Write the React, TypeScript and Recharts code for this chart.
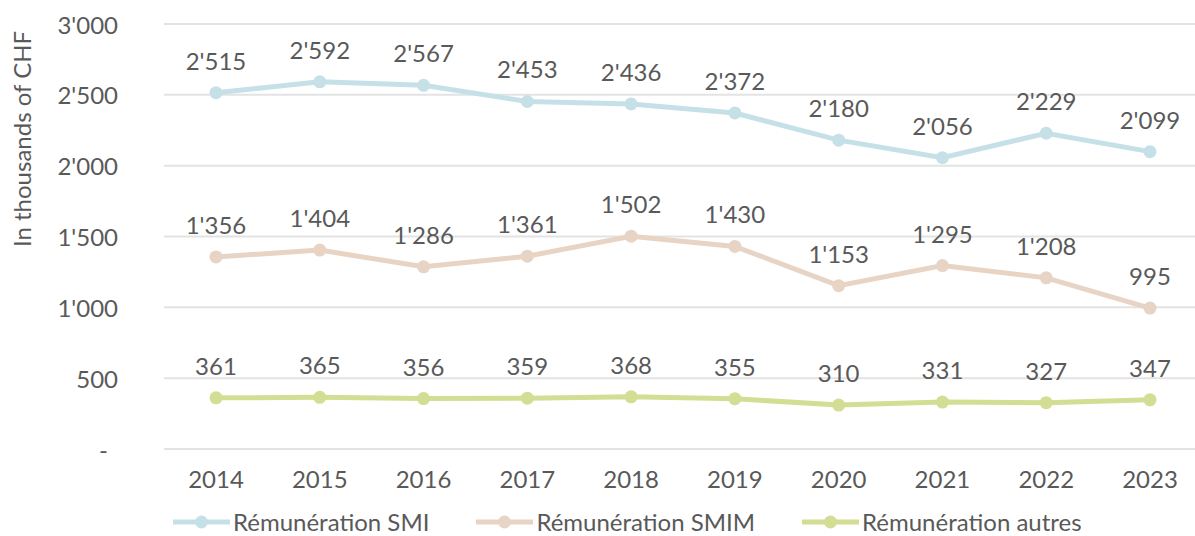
import React from "react";
import { LineChart, Line, XAxis, YAxis, CartesianGrid, Legend, LabelList } from "recharts";

const years = ["2014", "2015", "2016", "2017", "2018", "2019", "2020", "2021", "2022", "2023"];
const smi = [2515, 2592, 2567, 2453, 2436, 2372, 2180, 2056, 2229, 2099];
const smim = [1356, 1404, 1286, 1361, 1502, 1430, 1153, 1295, 1208, 995];
const autres = [361, 365, 356, 359, 368, 355, 310, 331, 327, 347];
const yTicks = [0, 500, 1000, 1500, 2000, 2500, 3000];
const seriesNames = ["Rémunération SMI", "Rémunération SMIM", "Rémunération autres"];
const seriesKeys = ["smi", "smim", "autres"];
const seriesColors = ["#C5E1E7", "#E8D4C5", "#D3DD93"];

const data = years.map((y, i) => ({ year: y, smi: smi[i], smim: smim[i], autres: autres[i] }));

const FONT = "Lato, 'Open Sans', sans-serif";
const TEXT = "#595959";
const FS = 24;

const fmt = (v: number) => {
  if (v === 0) return "-";
  const s = String(Math.round(v));
  return s.replace(/\B(?=(\d{3})+(?!\d))/g, "'");
};

const YTick = (props: any) => {
  const { x, y, payload } = props;
  const v = payload.value;
  return (
    <text x={v === 0 ? x - 10 : x} y={y} textAnchor="end" dominantBaseline="central" fill={TEXT} fontSize={FS} fontFamily={FONT}>
      {fmt(v)}
    </text>
  );
};

const LegendContent = () => (
  <div style={{ display: "flex", alignItems: "center", fontFamily: FONT, fontSize: FS, lineHeight: "24px", color: TEXT, whiteSpace: "nowrap" }}>
    {seriesNames.map((n, i) => (
      <div key={n} style={{ display: "flex", alignItems: "center", marginRight: 47 }}>
        <svg width={57} height={16} style={{ marginRight: 3 }}>
          <line x1={0} y1={8} x2={57} y2={8} stroke={seriesColors[i]} strokeWidth={5} />
          <circle cx={28.5} cy={8} r={6.5} fill={seriesColors[i]} />
        </svg>
        <span>{n}</span>
      </div>
    ))}
  </div>
);

export default function App() {
  return (
    <div style={{ position: "absolute", left: 0, top: 0, width: 1195, height: 536, overflow: "hidden", background: "#fff" }}>
      <LineChart width={1210} height={536} data={data} margin={{ top: 24, right: 8, bottom: 0, left: 0 }}>
        <CartesianGrid vertical={false} stroke="#E3E3E3" strokeWidth={2} />
        <XAxis
          dataKey="year"
          axisLine={false}
          tickLine={false}
          tickSize={6}
          tickMargin={16}
          height={87}
          padding={{ left: 52, right: 52 }}
          tick={{ fill: TEXT, fontSize: FS, fontFamily: FONT }}
        />
        <YAxis
          width={164}
          domain={[0, 3000]}
          ticks={yTicks}
          axisLine={false}
          tickLine={false}
          tickSize={6}
          tickMargin={40}
          tick={<YTick />}
          label={() => (
            <text x={21} y={139} transform="rotate(-90 21 139)" textAnchor="middle" dominantBaseline="central" fill={TEXT} fontSize={FS} fontFamily={FONT}>
              In thousands of CHF
            </text>
          )}
        />
        <Legend
          verticalAlign="middle"
          align="center"
          layout="horizontal"
          content={<LegendContent />}
          wrapperStyle={{ position: "absolute", top: 510, left: 173, width: 1000, height: 24 }}
        />
        {seriesKeys.map((k, i) => (
          <Line
            key={k}
            dataKey={k}
            name={seriesNames[i]}
            stroke={seriesColors[i]}
            strokeWidth={5}
            dot={{ r: 6.5, fill: seriesColors[i], stroke: seriesColors[i], strokeWidth: 0 }}
            activeDot={false}
            isAnimationActive={false}
          >
            <LabelList dataKey={k} position="top" offset={23} formatter={(v: any) => fmt(Number(v))} fill={TEXT} fontSize={FS} fontFamily={FONT} />
          </Line>
        ))}
      </LineChart>
    </div>
  );
}
